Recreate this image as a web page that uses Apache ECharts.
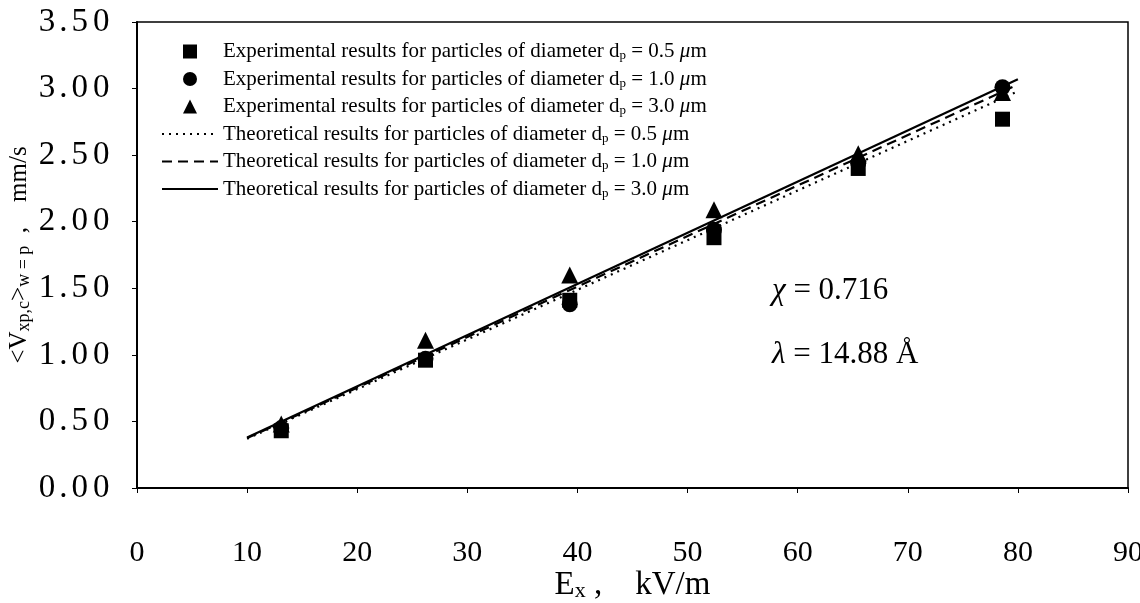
<!DOCTYPE html>
<html>
<head>
<meta charset="utf-8">
<script src="https://cdn.jsdelivr.net/npm/echarts@6/dist/echarts.min.js"></script>
<style>html,body{margin:0;padding:0;background:#fff}#c{width:1140px;height:603px}</style>
</head>
<body>
<div id="c"></div>
<script>
// ---- data ----
const expX = [13.1, 26.2, 39.3, 52.4, 65.5, 78.6];
const exp05 = [0.43, 0.96, 1.41, 1.88, 2.40, 2.77];
const exp10 = [0.45, 0.97, 1.38, 1.94, 2.44, 3.01];
const exp30 = [0.48, 1.11, 1.60, 2.09, 2.51, 2.97];
const theoX = [10, 80];
const theo05 = [0.370, 2.980];
const theo10 = [0.375, 3.030];
const theo30 = [0.380, 3.070];
const xTicks = [0, 10, 20, 30, 40, 50, 60, 70, 80, 90];
const yTicks = ['0.00','0.50','1.00','1.50','2.00','2.50','3.00','3.50'];
const legendNames = [
  'Experimental results for particles of diameter|0.5',
  'Experimental results for particles of diameter|1.0',
  'Experimental results for particles of diameter|3.0',
  'Theoretical results for particles of diameter|0.5',
  'Theoretical results for particles of diameter|1.0',
  'Theoretical results for particles of diameter|3.0'
];

const pair = (xs, ys) => xs.map((x, i) => [x, ys[i]]);
const SERIF = '"Liberation Serif", "Times New Roman", serif';
const chart = echarts.init(document.getElementById('c'), null, {renderer: 'canvas'});

const expSym = ['rect', 'circle', 'triangle'];
const expSize = [15, 16, 17];
const expData = [exp05, exp10, exp30];
const theoData = [theo05, theo10, theo30];
const lineTypes = [[2, 5], [10, 6], 'solid'];

const series = [];
for (let i = 0; i < 3; i++) {
  series.push({
    name: legendNames[i], type: 'scatter', data: pair(expX, expData[i]),
    symbol: expSym[i], symbolSize: expSize[i],
    itemStyle: {color: '#000', opacity: 1}, z: 3
  });
}
for (let i = 0; i < 3; i++) {
  series.push({
    name: legendNames[3 + i], type: 'line', data: pair(theoX, theoData[i]),
    symbol: 'none', showSymbol: false, lineStyle: {color: '#000', width: 2.2, type: lineTypes[i]},
    itemStyle: {color: '#000'}, z: 2
  });
}

const icons = ['path://M0,0H10V10H0Z', 'circle', 'path://M5,0L10,10H0Z'];

// letter-spaced tick label builder
const spaced = s => s.split('').map(c => c === '.' ? '{p|.}' : '{d|' + c + '}').join('');

chart.setOption({
  animation: false,
  backgroundColor: '#fff',
  grid: {left: 137, right: 12, top: 22, bottom: 115, outerBoundsMode: 'none', containLabel: false,
    show: true, borderColor: '#000', borderWidth: 1.5, backgroundColor: 'transparent'},
  legend: {
    orient: 'vertical', left: 156, top: 36, itemWidth: 56, itemHeight: 14, itemGap: 6,
    symbolKeepAspect: true, selectedMode: false,
    data: legendNames.map((n, i) => i < 3 ? {name: n, icon: icons[i]}
      : {name: n, itemStyle: {opacity: 0, color: 'rgba(0,0,0,0)', borderWidth: 0}}),
    formatter: function (n) {
      const p = n.split('|');
      return '{a|' + p[0] + ' d}{s|p}{a| = ' + p[1] + ' }{m|μ}{a|m}';
    },
    textStyle: {
      fontFamily: SERIF, color: '#000', fontSize: 21,
      rich: {
        a: {fontFamily: SERIF, fontSize: 21, color: '#000', lineHeight: 22},
        s: {fontFamily: SERIF, fontSize: 13, color: '#000', lineHeight: 10, verticalAlign: 'bottom'},
        m: {fontFamily: SERIF, fontSize: 21, color: '#000', lineHeight: 22, fontStyle: 'italic'}
      }
    }
  },
  xAxis: {
    type: 'value', min: 0, max: 90, interval: 10,
    axisLine: {show: true, lineStyle: {color: '#000', width: 2}},
    axisTick: {show: true, length: 5, inside: false, lineStyle: {color: '#000', width: 1}},
    splitLine: {show: false},
    axisLabel: {margin: 50, fontFamily: SERIF, fontSize: 30, color: '#000',
      formatter: v => xTicks.indexOf(v) >= 0 ? String(v) : ''},
    name: '{a|E}{s|x}{a| ,    kV/m}', nameLocation: 'middle', nameGap: 80, nameMoveOverlap: false,
    nameTextStyle: {
      rich: {
        a: {fontFamily: SERIF, fontSize: 33, color: '#000', lineHeight: 34},
        s: {fontFamily: SERIF, fontSize: 22, color: '#000', lineHeight: 14, verticalAlign: 'bottom'}
      }
    }
  },
  yAxis: {
    type: 'value', min: 0, max: 3.5, interval: 0.5,
    axisLine: {show: true, lineStyle: {color: '#000', width: 2}},
    axisTick: {show: true, length: 5, inside: false, lineStyle: {color: '#000', width: 1}},
    splitLine: {show: false},
    axisLabel: {margin: 25, color: '#000',
      formatter: v => spaced(yTicks[Math.round(v / 0.5)] || ''),
      rich: {
        d: {fontFamily: SERIF, fontSize: 33, color: '#000', padding: [0, 2.5, 0, 2.5]},
        p: {fontFamily: SERIF, fontSize: 33, color: '#000', padding: [0, 1.5, 0, 1.5]}
      }},
    name: '{a|<V}{s|xp,c}{a|>}{s|w = p}{a|  ,    mm/s}', nameLocation: 'middle', nameGap: 104, nameRotate: 90,
    nameMoveOverlap: false,
    nameTextStyle: {
      rich: {
        a: {fontFamily: SERIF, fontSize: 25, color: '#000', lineHeight: 28},
        s: {fontFamily: SERIF, fontSize: 18, color: '#000', lineHeight: 13, verticalAlign: 'bottom'}
      }
    }
  },
  graphic: [
    {type: 'text', left: 772, top: 275, style: {
      text: '{g|χ}{a| = 0.716}',
      rich: {g: {fontFamily: SERIF, fontSize: 31, fontStyle: 'italic', fill: '#000'}, a: {fontFamily: SERIF, fontSize: 31, fill: '#000'}}
    }},
    {type: 'text', left: 772, top: 339, style: {
      text: '{g|λ}{a| = 14.88 Å}',
      rich: {g: {fontFamily: SERIF, fontSize: 31, fontStyle: 'italic', fill: '#000'}, a: {fontFamily: SERIF, fontSize: 31, fill: '#000'}}
    }}
  ],
  series: series
});
</script>
</body>
</html>
